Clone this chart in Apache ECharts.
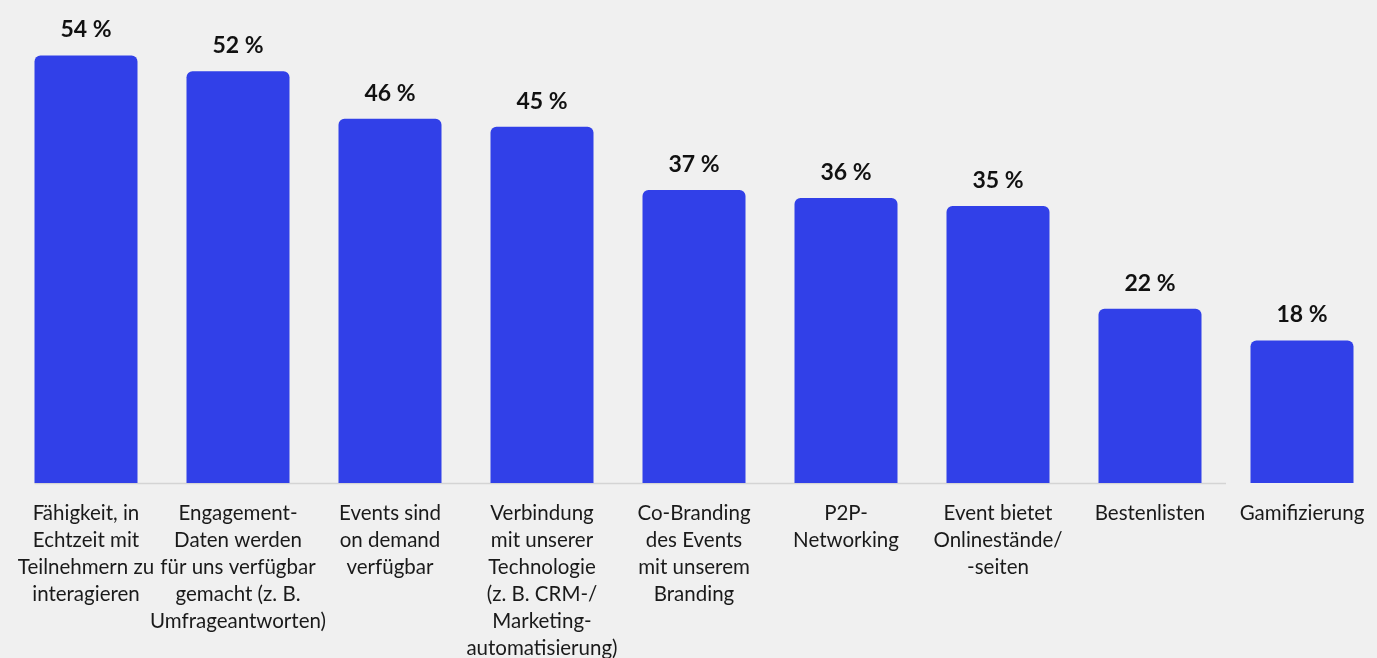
<!DOCTYPE html>
<html>
<head>
<meta charset="utf-8">
<script src="https://cdn.jsdelivr.net/npm/echarts@6/dist/echarts.min.js"></script>
<style>
  html, body { margin: 0; padding: 0; background: #f0f0f0; }
  #chart { width: 1377px; height: 658px; }
</style>
</head>
<body>
<div id="chart"></div>
<script>
// Features wanted from virtual event platforms (share of respondents, %)
const categories = [
  'Fähigkeit, in\nEchtzeit mit\nTeilnehmern zu\ninteragieren',
  'Engagement-\nDaten werden\nfür uns verfügbar\ngemacht (z. B.\nUmfrageantworten)',
  'Events sind\non demand\nverfügbar',
  'Verbindung\nmit unserer\nTechnologie\n(z. B. CRM-/\nMarketing-\nautomatisierung)',
  'Co-Branding\ndes Events\nmit unserem\nBranding',
  'P2P-\nNetworking',
  'Event bietet\nOnlinestände/\n-seiten',
  'Bestenlisten',
  'Gamifizierung'
];
const values = [54, 52, 46, 45, 37, 36, 35, 22, 18];

const FONT = 'Lato, "Noto Sans", sans-serif';
const BAR_WIDTH = 103;

const chart = echarts.init(document.getElementById('chart'));

chart.setOption({
  backgroundColor: '#f0f0f0',
  animation: false,
  grid: {
    left: 10, right: -1, top: 8, bottom: 175,
    containLabel: false,
    outerBoundsMode: 'none'
  },
  xAxis: {
    type: 'category',
    data: categories,
    boundaryGap: true,
    axisLine: { show: false },
    axisTick: { show: false },
    axisLabel: {
      interval: 0,
      margin: 17,
      color: '#1a1a1a',
      fontFamily: FONT,
      fontSize: 20.5,
      lineHeight: 27,
      align: 'center',
      verticalAlign: 'top',
      hideOverlap: false
    }
  },
  yAxis: {
    type: 'value',
    min: 0,
    max: 60,
    show: false,
    splitLine: { show: false }
  },
  series: [{
    type: 'bar',
    data: values,
    barWidth: BAR_WIDTH,
    itemStyle: { color: '#3140e8', borderRadius: [6, 6, 0, 0] },
    label: {
      show: true,
      position: 'top',
      distance: 14,
      formatter: p => p.value + ' %',
      color: '#111111',
      fontFamily: FONT,
      fontWeight: 'bold',
      fontSize: 23
    },
    z: 3
  }]
});

// Baseline under the bars, from the first bar's left edge to the gap before the last bar
function drawBaseline() {
  const half = BAR_WIDTH / 2;
  const p0 = chart.convertToPixel({ seriesIndex: 0 }, [0, 0]);
  const p7 = chart.convertToPixel({ seriesIndex: 0 }, [categories.length - 2, 0]);
  const p8 = chart.convertToPixel({ seriesIndex: 0 }, [categories.length - 1, 0]);
  const endX = (p7[0] + half + p8[0] - half) / 2;
  chart.setOption({
    graphic: [{
      type: 'line',
      z: 1,
      shape: { x1: p0[0] - half, y1: p0[1] + 0.5, x2: endX, y2: p0[1] + 0.5 },
      style: { stroke: '#d4d4d4', lineWidth: 1.5 }
    }]
  });
}
drawBaseline();
</script>
</body>
</html>
